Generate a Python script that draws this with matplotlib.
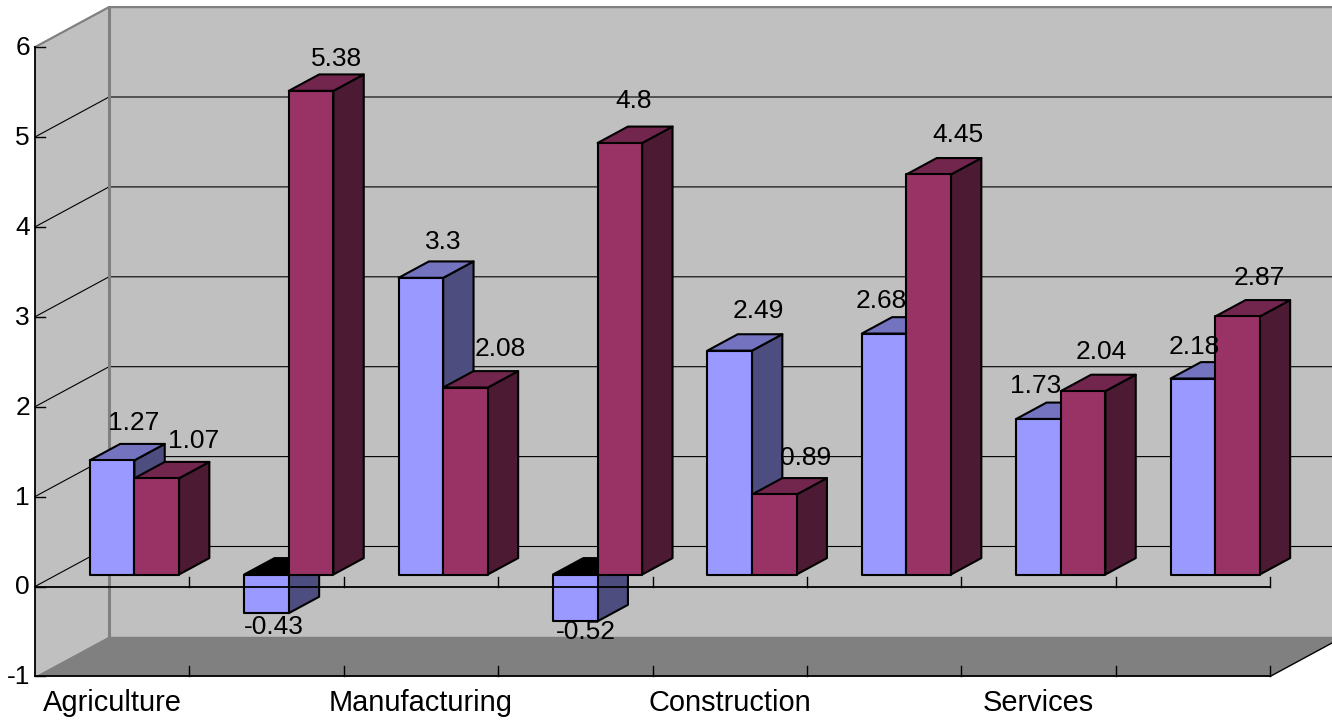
"""
3D style clustered bars drawn by hand on a flat axes
"""

import matplotlib
matplotlib.use("Agg")
import matplotlib.pyplot as plt
from matplotlib.patches import Polygon

categories = ["Agriculture", "", "Manufacturing", "", "Construction", "", "Services", ""]
blue_values = [1.27, -0.43, 3.3, -0.52, 2.49, 2.68, 1.73, 2.18]
red_values = [1.07, 5.38, 2.08, 4.8, 0.89, 4.45, 2.04, 2.87]
y_ticks = [-1, 0, 1, 2, 3, 4, 5, 6]

# label offsets from the bar's front face, in pixels
blue_label_dx = [22, 7, 22, 11, 29, -3, -3, 1]
blue_label_dy = [37, -14, 36, -11, 40, 33, 33, 32]
red_label_dx = [37, 25, 35, 14, 31, 29, 18, 22]
red_label_dy = [37, 32, 39, 42, 36, 39, 39, 38]

W, H = 1332, 720
X_PX = 154.4  # one category
Y_PX = 89.9   # one value unit
X0_PX, Y0_PX = 35, 586.5
DX = 74 / X_PX
DY = 40 / Y_PX
BAR_W = 44.6 / X_PX
BAR_D0, BAR_D1 = 0.3, 0.71

WALL = "#C0C0C0"
FLOOR = "#808080"
BLUE = ("#9999FF", "#4D4D80", "#7373BF")
RED = ("#993366", "#4D1A33", "#73264D")

plt.rcParams["font.family"] = ["Liberation Sans", "DejaVu Sans"]


def pr(x, v, d=0.0):
    return (x + d * DX, v + d * DY)


def face(ax, points, color, z):
    ax.add_patch(Polygon(points, closed=True, facecolor=color, edgecolor="black",
                         linewidth=1.5, joinstyle="round", zorder=z))


def draw_bar(ax, x, value, colors, z):
    front, side, top = colors
    v0, v1 = min(0, value), max(0, value)
    # side
    face(ax, [pr(x + BAR_W, v0, BAR_D0), pr(x + BAR_W, v0, BAR_D1),
              pr(x + BAR_W, v1, BAR_D1), pr(x + BAR_W, v1, BAR_D0)], side, z)
    # top, seen from inside (black) when the bar hangs below zero
    face(ax, [pr(x, v1, BAR_D0), pr(x + BAR_W, v1, BAR_D0),
              pr(x + BAR_W, v1, BAR_D1), pr(x, v1, BAR_D1)],
         top if value >= 0 else "black", z)
    # front
    face(ax, [pr(x, v0, BAR_D0), pr(x + BAR_W, v0, BAR_D0),
              pr(x + BAR_W, v1, BAR_D0), pr(x, v1, BAR_D0)], front, z)


def value_label(ax, x, value, dx, dy, z):
    ax.annotate("{0:g}".format(value), xy=pr(x + BAR_W / 2, value, BAR_D0),
                xytext=(dx * 0.72, dy * 0.72), textcoords="offset points",
                ha="center", va="center", fontsize=19, color="black", zorder=z)


fig = plt.figure(figsize=(W / 100, H / 100), dpi=100)
ax = fig.add_axes([0, 0, 1, 1])
ax.set_xlim(-X0_PX / X_PX, (W - X0_PX) / X_PX)
ax.set_ylim((Y0_PX - H) / Y_PX, Y0_PX / Y_PX)
ax.axis("off")

n = len(categories)
vmin, vmax = y_ticks[0], y_ticks[-1]

# walls and floor
ax.add_patch(Polygon([pr(0, vmin), pr(0, vmin, 1), pr(0, vmax, 1), pr(0, vmax)],
                     facecolor=WALL, edgecolor="none", zorder=1))
ax.add_patch(Polygon([pr(0, vmin, 1), pr(n, vmin, 1), pr(n, vmax, 1), pr(0, vmax, 1)],
                     facecolor=WALL, edgecolor="none", zorder=1))
ax.add_patch(Polygon([pr(0, vmin), pr(n, vmin), pr(n, vmin, 1), pr(0, vmin, 1)],
                     facecolor=FLOOR, edgecolor="none", zorder=2))

# gridlines
for v in y_ticks[1:-1]:
    xs, ys = zip(pr(0, v), pr(0, v, 1), pr(n, v, 1))
    ax.plot(xs, ys, color="black", lw=0.8, zorder=3)

# grey wall edges
xs, ys = zip(pr(0, vmax), pr(0, vmax, 1), pr(n, vmax, 1))
ax.plot(xs, ys, color=FLOOR, lw=1.6, zorder=4)
xs, ys = zip(pr(0, vmin, 1), pr(0, vmax, 1))
ax.plot(xs, ys, color=FLOOR, lw=2.2, zorder=4)

# bars, left to right so the later ones overlap
z = 5
for i in range(n):
    x = i + 0.5 - BAR_W
    draw_bar(ax, x, blue_values[i], BLUE, z)
    draw_bar(ax, x + BAR_W, red_values[i], RED, z + 1)
    z += 2

# axes in front
ax.plot([0, 0], [vmin, vmax], color="black", lw=1.3, zorder=40)
ax.plot([0, n], [0, 0], color="black", lw=1.3, zorder=40)
ax.plot([0, n], [vmin, vmin], color="black", lw=1.3, zorder=40)
ax.plot([n, n + DX], [vmin, vmin + DY], color="black", lw=1, zorder=40)
for i in range(1, n + 1):
    for base in (0, vmin):
        ax.plot([i, i], [base, base + 10 / Y_PX], color="black", lw=1, zorder=40)
for v in y_ticks:
    ax.plot([0, 10 / X_PX], [v, v], color="black", lw=1, zorder=40)
    ax.text(-5 / X_PX, v - 1 / Y_PX, str(v), ha="right", va="center", fontsize=19, zorder=41)

for i, name in enumerate(categories):
    ax.text(i + 0.5, vmin - 27 / Y_PX, name, ha="center", va="center", fontsize=20.9, zorder=41)

for i in range(n):
    x = i + 0.5 - BAR_W
    value_label(ax, x, blue_values[i], blue_label_dx[i], blue_label_dy[i], 50)
    value_label(ax, x + BAR_W, red_values[i], red_label_dx[i], red_label_dy[i], 50)

fig.savefig("out.png", dpi=100)
